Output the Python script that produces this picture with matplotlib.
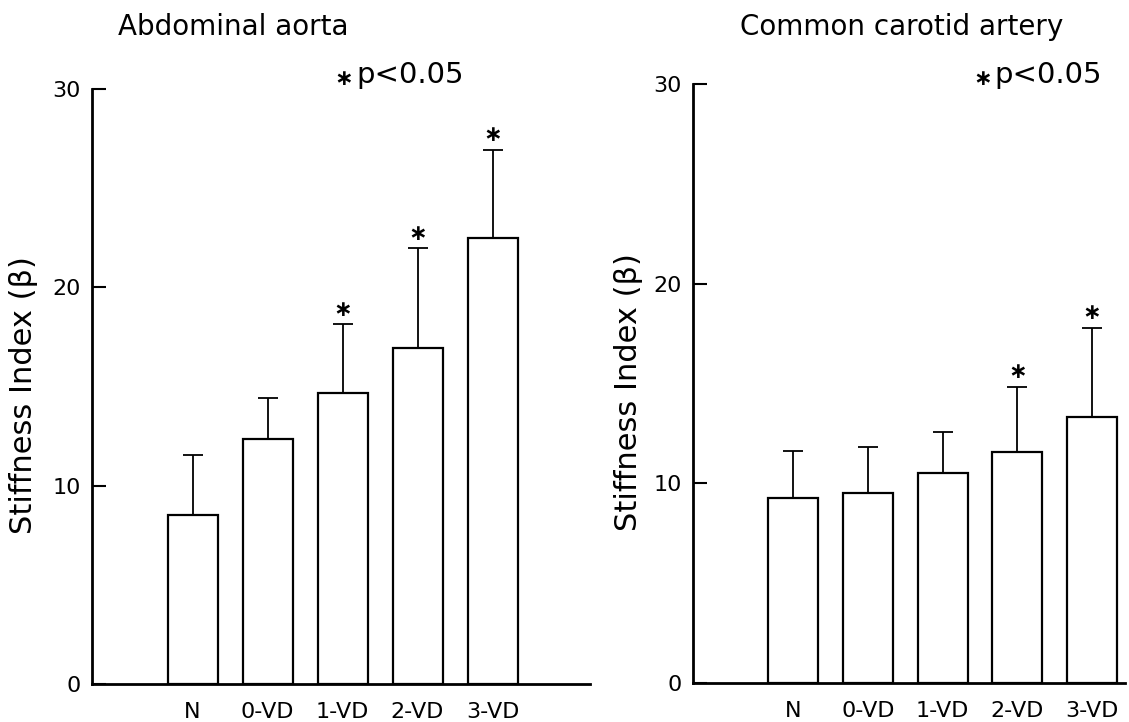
import numpy as np
import matplotlib.pyplot as plt

plt.rcParams['font.family'] = ['DejaVu Sans']

groups = ['N', '0-VD', '1-VD', '2-VD', '3-VD']

aorta_mean = [8.5, 12.35, 14.7, 16.95, 22.5]
aorta_sd = [3.05, 2.05, 3.45, 5.05, 4.45]
aorta_sig = [0, 0, 1, 1, 1]

carotid_mean = [9.25, 9.5, 10.5, 11.55, 13.3]
carotid_sd = [2.35, 2.3, 2.05, 3.3, 4.5]
carotid_sig = [0, 0, 0, 1, 1]

titles = ['Abdominal aorta', 'Common carotid artery']
y_ticks = [0, 10, 20, 30]


def panel(ax, mean, sd, sig, xmax, label_x):
    x = np.arange(len(groups))
    ax.bar(x, mean, width=0.667, color='white', edgecolor='black', linewidth=1.6, zorder=2)
    ax.errorbar(x, mean, yerr=[np.zeros(len(sd)), sd], fmt='none', ecolor='black',
                elinewidth=1.3, capsize=7, capthick=1.3, zorder=3)
    for i in range(len(groups)):
        if sig[i]:
            ax.annotate('∗', xy=(x[i], mean[i] + sd[i]), xytext=(0, 3),
                        textcoords='offset points', ha='center', va='bottom',
                        fontsize=16, fontweight='bold')

    ax.set_xlim(-1.34, xmax)
    ax.set_ylim(0, 30)
    ax.set_yticks(y_ticks)
    ax.set_xticks(x)
    ax.set_xticklabels(groups)
    ax.spines['top'].set_color('none')
    ax.spines['right'].set_color('none')
    ax.spines['left'].set_linewidth(2)
    ax.spines['bottom'].set_linewidth(2)
    ax.tick_params(axis='y', direction='in', length=10, width=1.5, labelsize=16, pad=8)
    ax.tick_params(axis='x', length=0, labelsize=16, pad=13)
    ax.set_ylabel('Stiffness Index (β)', fontsize=22, va='center')
    ax.yaxis.set_label_coords(label_x, 0.486)


fig = plt.figure(figsize=(11.29, 7.22), dpi=100)
ax1 = fig.add_axes([0.0815, 0.0526, 0.4411, 0.824])
ax2 = fig.add_axes([0.6138, 0.054, 0.3826, 0.8296])

panel(ax1, aorta_mean, aorta_sd, aorta_sig, 5.3, -0.137)
panel(ax2, carotid_mean, carotid_sd, carotid_sig, 4.44, -0.15)

fig.text(0.207, 0.9626, titles[0], ha='center', va='center', fontsize=20)
fig.text(0.799, 0.9626, titles[1], ha='center', va='center', fontsize=20)

fig.text(0.304, 0.891, '∗', ha='center', va='center', fontsize=16, fontweight='bold')
fig.text(0.316, 0.896, 'p<0.05', ha='left', va='center', fontsize=21)
fig.text(0.870, 0.891, '∗', ha='center', va='center', fontsize=16, fontweight='bold')
fig.text(0.881, 0.896, 'p<0.05', ha='left', va='center', fontsize=21)

fig.savefig('out.png', dpi=100)
